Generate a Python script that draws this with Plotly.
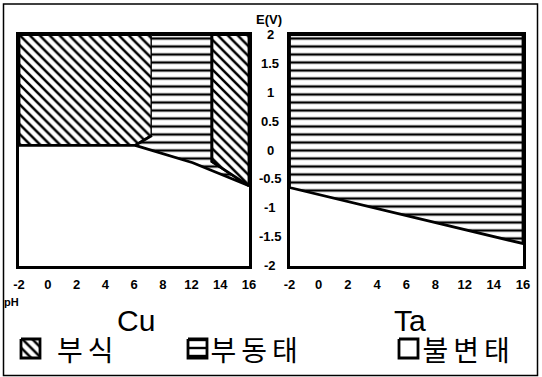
import numpy as np
import plotly.graph_objects as go

W, H = 542, 377

# ---------------- data ----------------
x_tick_labels = ["-2", "0", "2", "4", "6", "8", "12", "14", "16"]
y_tick_values = [2, 1.5, 1, 0.5, 0, -0.5, -1, -1.5, -2]
y_tick_labels = ["2", "1.5", "1", "0.5", "0", "-0.5", "-1", "-1.5", "-2"]

# Cu regions (pH, E)
cu_corr_acid_ph = [-2, -2, 8.4, 8.4, 7.1, -2]
cu_corr_acid_e = [0.08, 2, 2, 0.25, 0.08, 0.08]
cu_passive_ph = [8.4, 13.1, 13.1, 16, 11.6, 7.1, 8.4]
cu_passive_e = [2, 2, -0.2, -0.62, -0.22, 0.08, 0.25]
cu_corr_alk_ph = [13.1, 16, 16, 13.1, 13.1]
cu_corr_alk_e = [2, 2, -0.62, -0.2, 2]

# Ta regions
ta_passive_ph = [-2, 16, 16, -2, -2]
ta_passive_e = [2, 2, -1.62, -0.65, 2]

legend_labels = ["부식", "부동태", "불변태"]
metal_names = ["Cu", "Ta"]

# ---------------- helpers ----------------
def px(x):
    return x / W

def py(y):
    return 1 - y / H

FONT = "Liberation Sans, Arial, sans-serif"
KFONT = "Noto Sans CJK KR, sans-serif"
CLEAR = "rgba(0,0,0,0)"

corr_pat = dict(shape="\\", size=7, solidity=0.36, fgcolor="black", fgopacity=1, bgcolor="white")
pass_pat = dict(shape="-", size=8, solidity=0.3, fgcolor="black", fgopacity=1, bgcolor="white")
line_st = dict(color="black", width=2.8)

fig = go.Figure()

def region(xs, ys, pat, xa, ya):
    fig.add_trace(go.Scatter(
        x=xs, y=ys, mode="lines", fill="toself", fillcolor="white",
        fillpattern=pat, line=line_st, xaxis=xa, yaxis=ya,
        hoverinfo="skip", showlegend=False))

region(cu_corr_acid_ph, cu_corr_acid_e, corr_pat, "x", "y")
region(cu_passive_ph, cu_passive_e, pass_pat, "x", "y")
region(cu_corr_alk_ph, cu_corr_alk_e, corr_pat, "x", "y")
region(ta_passive_ph, ta_passive_e, pass_pat, "x2", "y2")

# legend swatches on a full-figure pixel axis
swatch_x = [21, 188, 399]
swatch_pats = [corr_pat, pass_pat, None]
for sx, pat in zip(swatch_x, swatch_pats):
    kw = dict(fillpattern=pat) if pat else {}
    fig.add_trace(go.Scatter(
        x=[sx, sx + 19, sx + 19, sx, sx], y=[339, 339, 358, 358, 339],
        mode="lines", fill="toself", fillcolor="white",
        line=dict(color="black", width=2.8), xaxis="x3", yaxis="y3",
        hoverinfo="skip", showlegend=False, **kw))

xtickvals = list(np.linspace(-2, 16, len(x_tick_labels)))
axis_common = dict(showgrid=False, zeroline=False, showline=True, mirror=True,
                   linewidth=3, linecolor="black")
xcommon = dict(axis_common, range=[-2, 16], tickvals=xtickvals, ticktext=x_tick_labels,
               ticks="outside", ticklen=5, tickcolor=CLEAR,
               tickfont=dict(family=FONT, size=13, color="black", weight="bold"))
ycommon = dict(axis_common, range=[-2, 2], showticklabels=False, ticks="")

fig.update_layout(
    width=W, height=H, margin=dict(l=0, r=0, t=0, b=0, autoexpand=False),
    paper_bgcolor="white", plot_bgcolor=CLEAR,
    xaxis=dict(xcommon, domain=[px(19), px(249)], anchor="y"),
    yaxis=dict(ycommon, domain=[py(265.5), py(34.5)], anchor="x"),
    xaxis2=dict(xcommon, domain=[px(289.5), px(523)], anchor="y2"),
    yaxis2=dict(ycommon, domain=[py(265.5), py(34.5)], anchor="x2"),
    xaxis3=dict(domain=[0, 1], range=[0, W], visible=False, anchor="y3", fixedrange=True),
    yaxis3=dict(domain=[0, 1], range=[H, 0], visible=False, anchor="x3", fixedrange=True),
)

ann = []
for v, t in zip(y_tick_values, y_tick_labels):
    ann.append(dict(x=px(270), xref="paper", y=v, yref="y2", text=t, showarrow=False,
                    xanchor="center", yanchor="middle",
                    font=dict(family=FONT, size=13, color="black", weight="bold")))
ann.append(dict(x=px(269), y=py(20), xref="paper", yref="paper", text="E(V)", showarrow=False,
                xanchor="center", yanchor="middle",
                font=dict(family=FONT, size=13, color="black", weight="bold")))
ann.append(dict(x=px(2), y=py(302), xref="paper", yref="paper", text="pH", showarrow=False,
                xanchor="left", yanchor="middle",
                font=dict(family=FONT, size=11, color="black", weight="bold")))
for name, cx in zip(metal_names, [136, 410]):
    ann.append(dict(x=px(cx), y=py(320), xref="paper", yref="paper", text=name, showarrow=False,
                    xanchor="center", yanchor="middle",
                    font=dict(family=FONT, size=30, color="black")))
for lab, tx in zip(legend_labels, [60, 216, 428]):
    ann.append(dict(x=px(tx), y=py(349), xref="paper", yref="paper", text=lab, showarrow=False,
                    xanchor="left", yanchor="middle",
                    font=dict(family=KFONT, size=28, color="black")))
fig.update_layout(annotations=ann)

fig.add_shape(type="rect", xref="paper", yref="paper", x0=px(3.5), x1=px(537.5),
              y0=py(375.5), y1=py(4), line=dict(color="black", width=1.5))

post = """
document.body.style.margin='0';document.body.style.overflow='hidden';
document.querySelectorAll('.annotation-text').forEach(function(t){
  if (/[\\uAC00-\\uD7A3]/.test(t.textContent)) { t.style.letterSpacing='5px'; }
});
"""
fig.write_html("out.html", config={"displayModeBar": False}, post_script=post)
